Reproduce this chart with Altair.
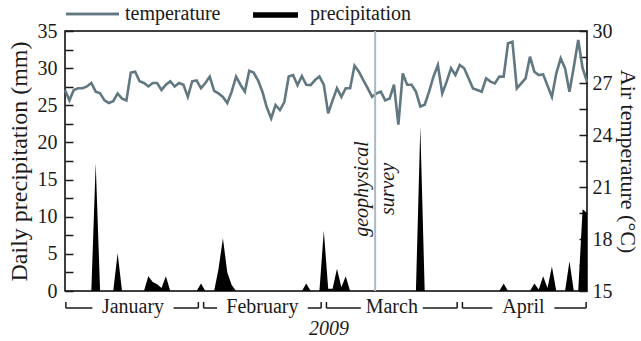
import altair as alt
import pandas as pd

# ---------------- data ----------------
days = list(range(120))  # 1 Jan 2009 (day 0) .. 30 Apr 2009 (day 119)

temperature = [
    26.6, 26.0, 26.6, 26.7, 26.7, 26.8, 27.0, 26.5, 26.4, 26.0,
    25.85, 25.95, 26.4, 26.1, 26.0, 27.6, 27.65, 27.1, 27.0, 26.8,
    27.0, 27.0, 26.6, 26.9, 27.1, 26.8, 27.0, 26.9, 26.2, 27.1,
    27.15, 26.7, 27.0, 27.37, 26.55, 26.4, 26.2, 25.85, 26.5, 27.37,
    26.9, 26.5, 27.7, 27.6, 27.15, 26.5, 25.6, 24.96, 25.73, 25.44,
    25.9, 27.37, 27.46, 26.88, 27.4, 26.9, 26.88, 27.17, 27.37, 26.9,
    25.25, 26.0, 26.7, 26.2, 26.7, 26.7, 28.0, 27.65, 27.17, 26.7,
    26.2, 26.4, 26.5, 26.0, 26.1, 26.9, 24.6, 27.55, 26.9, 26.9,
    26.5, 25.65, 25.75, 26.5, 27.37, 28.04, 26.4, 27.08, 27.85, 27.46,
    28.04, 27.85, 27.27, 26.69, 26.6, 26.5, 27.27, 27.08, 26.98, 27.37,
    27.37, 29.29, 29.38, 26.69, 26.98, 27.27, 28.52, 27.65, 27.46, 27.5,
    26.85, 26.2, 27.56, 28.42, 27.85, 26.5, 27.94, 29.48, 27.85, 27.08,
]

rain_days = [7, 12, 19, 20, 21, 22, 23, 31, 35, 36, 37, 38, 55, 59, 60, 61,
             62, 63, 64, 81, 100, 107, 108, 109, 110, 111, 115, 118, 119]
rain_mm = [17.2, 5.1, 2.0, 1.2, 0.9, 0.4, 2.0, 1.0, 3.0, 7.1, 2.5, 0.8, 1.0,
           8.1, 0.3, 0.3, 3.0, 0.5, 2.0, 22.1, 1.0, 1.0, 0.2, 2.0, 0.4, 3.3,
           4.0, 11.0, 10.5]

months = ["January", "February", "March", "April"]
month_start = [0, 31, 59, 90]
month_end = [31, 59, 90, 119]

survey_day = 70.7
year_label = "2009"

precip_ticks = [i * 2.5 for i in range(15)]
temp_ticks = [15 + 1.5 * i for i in range(11)]

# ---------------- styling ----------------
SERIF = "Liberation Serif"
TXT = "#1a1a1a"
TEMP_COLOR = "#617882"
SURVEY_COLOR = "#a9bbc3"
W, H = 522, 260
PX_PER_DAY = W / (days[-1] - days[0])

precip = [0.0] * len(days)
for d, v in zip(rain_days, rain_mm):
    precip[d] = v
df = pd.DataFrame({"day": days, "temp": temperature, "precip": precip})

xscale = alt.Scale(domain=[days[0], days[-1]], nice=False, zero=False)
X = alt.X("day:Q", scale=xscale, axis=None)

area = alt.Chart(df).mark_area(color="black", interpolate="linear").encode(
    x=X,
    y=alt.Y(
        "precip:Q",
        scale=alt.Scale(domain=[0, 35], nice=False),
        axis=alt.Axis(
            title="Daily precipitation (mm)", orient="left",
            values=precip_ticks,
            labelExpr="datum.value % 5 == 0 ? datum.label : ''",
            offset=-8, tickSize=8, domain=False, grid=False,
            labelPadding=8, titlePadding=6, titleFontSize=24,
        ),
    ),
)

line = alt.Chart(df).mark_line(color=TEMP_COLOR, strokeWidth=2.6).encode(
    x=X,
    y=alt.Y(
        "temp:Q",
        scale=alt.Scale(domain=[15, 30], nice=False, zero=False),
        axis=alt.Axis(
            title="Air temperature (°C)", orient="right",
            values=temp_ticks,
            labelExpr="datum.value % 3 == 0 ? datum.label : ''",
            offset=-8, tickSize=8, domain=False, grid=False,
            labelPadding=5, titlePadding=3, titleFontSize=22,
        ),
    ),
)

survey_df = pd.DataFrame({"day": [survey_day]})
survey_rule = alt.Chart(survey_df).mark_rule(
    color=SURVEY_COLOR, strokeWidth=2
).encode(x=X)

survey_txt1 = alt.Chart(survey_df).mark_text(
    text="geophysical", angle=270, align="center", baseline="bottom", dy=-3,
    font=SERIF, fontStyle="italic", fontSize=20, color=TXT,
).encode(x=X, y=alt.value(158))
survey_txt2 = alt.Chart(survey_df).mark_text(
    text="survey", angle=270, align="center", baseline="top", dy=3,
    font=SERIF, fontStyle="italic", fontSize=20, color=TXT,
).encode(x=X, y=alt.value(158))

# month brackets
seg_rows, end_rows, lab_rows = [], [], []
for name, s, e in zip(months, month_start, month_end):
    g0 = 0.2 if s == days[0] else 0.6
    g1 = 0.2 if e == days[-1] else 0.6
    a, b = s + g0, e - g1
    mid = (s + e) / 2
    hw = (4.8 * len(name) + 7) / PX_PER_DAY
    seg_rows += [{"a": a, "b": mid - hw}, {"a": mid + hw, "b": b}]
    end_rows += [{"day": a}, {"day": b}]
    lab_rows.append({"day": mid, "month": name})

seg_df = pd.DataFrame(seg_rows)
end_df = pd.DataFrame(end_rows)
lab_df = pd.DataFrame(lab_rows)

brk_h = alt.Chart(seg_df).mark_rule(color=TXT, strokeWidth=1.5).encode(
    x=alt.X("a:Q", scale=xscale, axis=None), x2="b:Q", y=alt.value(H + 17)
)
brk_v = alt.Chart(end_df).mark_rule(color=TXT, strokeWidth=1.5).encode(
    x=X, y=alt.value(H + 11), y2=alt.value(H + 17)
)
month_txt = alt.Chart(lab_df).mark_text(
    font=SERIF, fontSize=20, color=TXT, baseline="alphabetic", align="center"
).encode(x=X, text="month:N", y=alt.value(H + 22))

year_txt = alt.Chart(pd.DataFrame({"t": [year_label]})).mark_text(
    font=SERIF, fontSize=20, fontStyle="italic", color=TXT, align="center",
    baseline="alphabetic",
).encode(text="t:N", x=alt.value(264), y=alt.value(H + 44))

# legend
leg_df = pd.DataFrame({"label": ["temperature", "precipitation"]})
leg_line1 = alt.Chart(leg_df).mark_rule(color=TEMP_COLOR, strokeWidth=2.5).encode(
    x=alt.value(1), x2=alt.value(54), y=alt.value(-17)
)
leg_line2 = alt.Chart(leg_df).mark_rule(color="black", strokeWidth=5).encode(
    x=alt.value(188), x2=alt.value(233), y=alt.value(-16)
)
leg_t1 = alt.Chart(pd.DataFrame({"t": ["temperature"]})).mark_text(
    font=SERIF, fontSize=20, color=TXT, align="left", baseline="alphabetic"
).encode(text="t:N", x=alt.value(60), y=alt.value(-11))
leg_t2 = alt.Chart(pd.DataFrame({"t": ["precipitation"]})).mark_text(
    font=SERIF, fontSize=20, color=TXT, align="left", baseline="alphabetic"
).encode(text="t:N", x=alt.value(245), y=alt.value(-11))

chart = (
    alt.layer(
        area, line, survey_rule, survey_txt1, survey_txt2,
        brk_h, brk_v, month_txt, year_txt,
        leg_line1, leg_line2, leg_t1, leg_t2,
    )
    .resolve_scale(y="independent")
    .properties(
        width=W, height=H, autosize="none",
        padding={"left": 65, "top": 31, "right": 54, "bottom": 50},
        background="white",
    )
    .configure_view(stroke="black", strokeWidth=1.5)
    .configure_axis(
        labelFont=SERIF, labelFontSize=20, labelColor=TXT,
        titleFont=SERIF, titleFontWeight="normal",
        titleColor=TXT, tickColor=TXT, tickWidth=1.5,
    )
)

chart.save("out.html", embed_options={"renderer": "svg", "actions": False})
